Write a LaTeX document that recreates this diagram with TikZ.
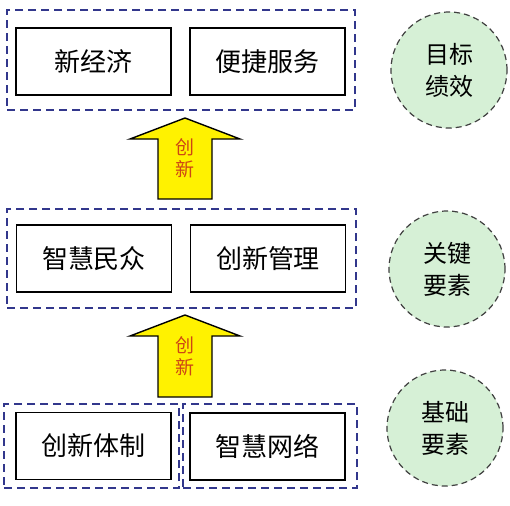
\documentclass[tikz,border=0pt]{standalone}
\usepackage{fontspec}
\setmainfont{Noto Sans CJK SC}
\usetikzlibrary{positioning}
\definecolor{frameblue}{RGB}{50,55,140}
\definecolor{tagfill}{RGB}{214,240,214}
\definecolor{innovred}{RGB}{205,70,20}

\begin{document}
\begin{tikzpicture}[x=0.5pt, y=-0.5pt,
    inbox/.style={draw, line width=0.7pt, minimum width=77.5pt, minimum height=33.5pt, inner sep=0pt, font=\fontsize{13}{13}\selectfont},
    grpbox/.style={draw=frameblue, line width=0.6pt, dash pattern=on 4pt off 2.5pt, inner sep=0pt},
    tagcircle/.style={circle, draw=black!75, line width=0.6pt, dash pattern=on 3pt off 2pt, fill=tagfill, minimum size=58pt, inner sep=0pt, align=center, font=\fontsize{12}{16}\selectfont},
    uparrow/.style={draw, line width=0.7pt, fill=yellow},
    uptext/.style={align=center, text=innovred, font=\fontsize{9.5}{11}\selectfont}]
                \useasboundingbox[fill=white] (0,0) rectangle (510,505);
                % Top layer (目标)
                \node[grpbox, minimum width=174pt, minimum height=50pt] (topgrp) at (181,60) {};
                \node[inbox] (xjj) at (93.5,61.5) {新经济};
                \node[inbox] (bjfw) at (267.5,61.5) {便捷服务};
                \node[tagcircle] (mbjx) at (449,70) {目标\\绩效};
                % Middle layer (关键)
                \node[grpbox, minimum width=174.5pt, minimum height=49.5pt] (midgrp) at (181.5,258.5) {};
                \node[inbox] (zhmz) at (94,258.5) {智慧民众};
                \node[inbox] (cxgl) at (268,258.5) {创新管理};
                \node[tagcircle] (gjys) at (447,269) {关键\\要素};
                % Bottom layer (基础)
                \node[grpbox, minimum width=87.5pt, minimum height=42pt] (botgrpA) at (91.5,446) {};
                \node[grpbox, minimum width=87pt, minimum height=42pt] (botgrpB) at (270,446) {};
                \node[inbox] (cxtz) at (93.5,446) {创新体制};
                \node[inbox] (zhwl) at (267.5,446.5) {智慧网络};
                \node[tagcircle] (jcys) at (445,428) {基础\\要素};
                % Arrows (创新)
                \draw[uparrow] (158,199) -- (158,139) -- (130,139) -- (185,118) -- (240,139) -- (212,139) -- (212,199) -- cycle;
                \node[uptext] (cxA) at (185,158) {创\\新};
                \draw[uparrow] (158,397) -- (158,336) -- (130,336) -- (185,315) -- (240,336) -- (212,336) -- (212,397) -- cycle;
                \node[uptext] (cxB) at (185,356) {创\\新};
            \end{tikzpicture}
\end{document}
